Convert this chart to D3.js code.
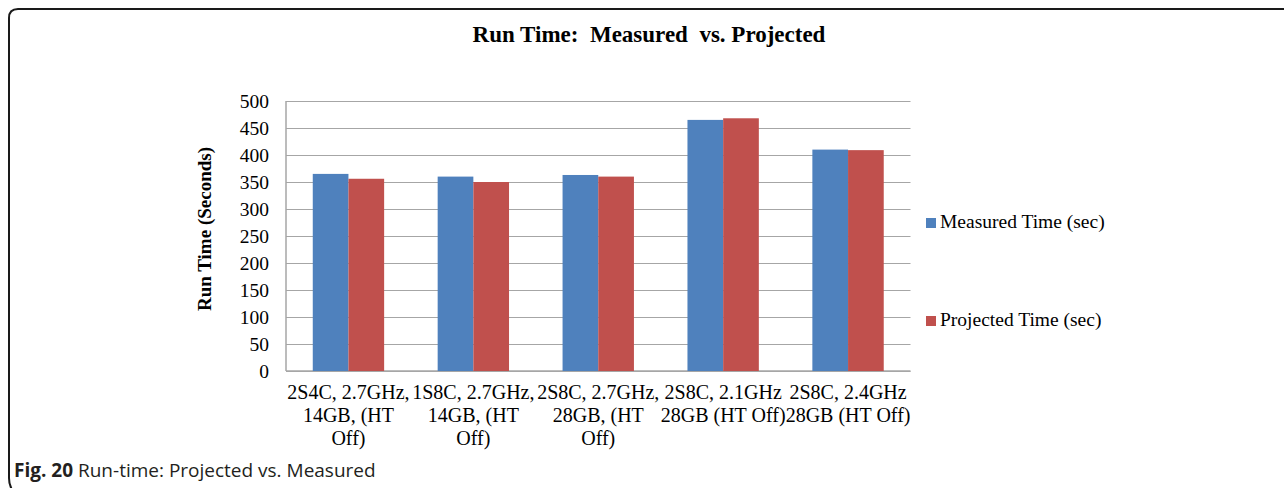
<!DOCTYPE html>
<html>
<head>
<meta charset="utf-8">
<script src="https://cdn.jsdelivr.net/npm/d3@7"></script>
<style>
  body { margin: 0; background: #fff; }
  svg { display: block; }
</style>
</head>
<body>
<div id="chart"></div>
<script>
// data
const categories = [
  ["2S4C, 2.7GHz,", "14GB, (HT", "Off)"],
  ["1S8C, 2.7GHz,", "14GB, (HT", "Off)"],
  ["2S8C, 2.7GHz,", "28GB, (HT", "Off)"],
  ["2S8C, 2.1GHz", "28GB (HT Off)"],
  ["2S8C, 2.4GHz", "28GB (HT Off)"]
];
const seriesNames = ["Measured Time (sec)", "Projected Time (sec)"];
const measured = [365, 360, 363, 465, 410];
const projected = [356, 350, 360, 468, 409];
const yTicks = [0, 50, 100, 150, 200, 250, 300, 350, 400, 450, 500];

const W = 1284, H = 488;
const plot = { left: 286, right: 910.5, top: 101, bottom: 371 };
const serif = "'Liberation Serif', 'Times New Roman', serif";

const svg = d3.select("#chart").append("svg")
  .attr("width", W).attr("height", H);

// outer frame (top + left edge, rounded corners)
svg.append("path")
  .attr("d", "M1290,9 L18,9 Q9,9 9,18 L9,478 Q9,487 14,492")
  .attr("fill", "none").attr("stroke", "#1a1a1a").attr("stroke-width", 2);

// title
svg.append("text")
  .attr("x", 649).attr("y", 42)
  .attr("text-anchor", "middle")
  .style("font-family", serif).style("font-weight", "bold").style("font-size", "23px")
  .attr("xml:space", "preserve")
  .text("Run Time:  Measured  vs. Projected");

const x = d3.scaleBand().domain(d3.range(categories.length))
  .range([plot.left, plot.right]);
// Excel style: gap width 150%
const barW = x.bandwidth() / 3.5;
const y = d3.scaleLinear().domain([0, 500]).range([plot.bottom, plot.top]);
const color = d3.scaleOrdinal().domain(seriesNames).range(["#4f81bd", "#c0504d"]);

// gridlines + y labels
const yAxis = svg.append("g")
  .attr("transform", `translate(${plot.left},0)`)
  .call(d3.axisLeft(y).tickValues(yTicks).tickSize(-(plot.right - plot.left)).tickPadding(17));
yAxis.select(".domain").remove();
yAxis.selectAll(".tick line").attr("stroke", "#a6a6a6").attr("stroke-width", 1.2);
yAxis.selectAll(".tick text")
  .style("font-family", serif).style("font-size", "19.5px").attr("fill", "#000");

// axis lines
svg.append("line")
  .attr("x1", plot.left).attr("x2", plot.left)
  .attr("y1", plot.top).attr("y2", plot.bottom)
  .attr("stroke", "#a6a6a6").attr("stroke-width", 1.5);
svg.append("line")
  .attr("x1", plot.left).attr("x2", plot.right)
  .attr("y1", plot.bottom).attr("y2", plot.bottom)
  .attr("stroke", "#a6a6a6").attr("stroke-width", 1.5);

// bars
const series = [measured, projected];
series.forEach((vals, s) => {
  svg.append("g").selectAll("rect")
    .data(vals)
    .enter()
    .append("rect")
    .attr("x", (d, i) => x(i) + x.bandwidth() / 2 - barW + s * barW)
    .attr("y", d => y(d))
    .attr("width", barW)
    .attr("height", d => y(0) - y(d))
    .attr("fill", color(seriesNames[s]));
});

// x labels
const xl = svg.append("g");
categories.forEach((lines, i) => {
  const t = xl.append("text")
    .attr("text-anchor", "middle")
    .style("font-family", serif).style("font-size", "20px");
  lines.forEach((ln, j) => {
    t.append("tspan")
      .attr("x", x(i) + x.bandwidth() / 2)
      .attr("y", 399 + j * 23)
      .text(ln);
  });
});

// y axis title
svg.append("text")
  .attr("transform", "translate(211,229) rotate(-90)")
  .attr("text-anchor", "middle")
  .style("font-family", serif).style("font-weight", "bold").style("font-size", "19px")
  .text("Run Time (Seconds)");

// legend
const legendY = [218, 316];
seriesNames.forEach((name, i) => {
  svg.append("rect")
    .attr("x", 926).attr("y", legendY[i])
    .attr("width", 10).attr("height", 10)
    .attr("fill", color(name));
  svg.append("text")
    .attr("x", 940).attr("y", legendY[i] + 10)
    .style("font-family", serif).style("font-size", "19.5px")
    .text(name);
});

// caption
const cap = svg.append("text")
  .attr("x", 14).attr("y", 477)
  .style("font-family", "'Open Sans', 'Noto Sans', sans-serif").style("font-size", "19px")
  .attr("fill", "#231f20");
cap.append("tspan").style("font-weight", "bold").text("Fig. 20");
cap.append("tspan").text(" Run-time: Projected vs. Measured");
</script>
</body>
</html>
